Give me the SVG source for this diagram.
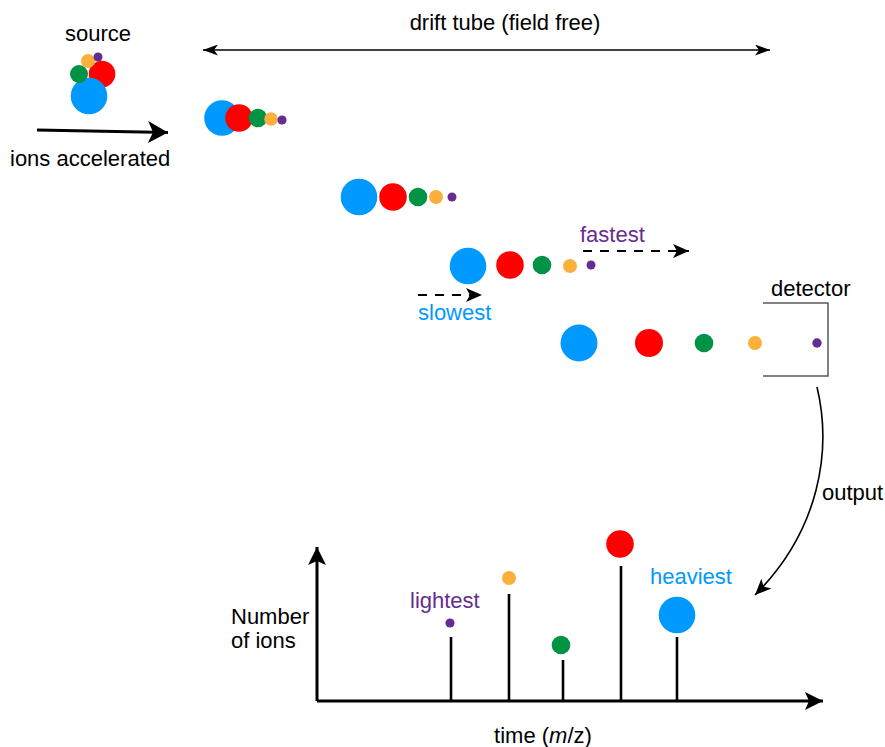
<svg xmlns="http://www.w3.org/2000/svg" width="885" height="747" viewBox="0 0 885 747">
<style>
text{font-family:"Liberation Sans",Arial,sans-serif;font-size:22px;fill:#000}
.pl{fill:#662D91}.bl{fill:#0099FF}
.b{fill:#0099FF}.r{fill:#FF0000}.g{fill:#009245}.o{fill:#FBB03B}.p{fill:#662D91}
.stem{stroke:#000;stroke-width:2.6;fill:none}
</style>
<defs>
<marker id="big" markerUnits="userSpaceOnUse" viewBox="0 0 20 22" refX="20" refY="11" markerWidth="20" markerHeight="22" orient="auto"><path d="M0,0 L20,11 L0,22 L5,11 z" fill="#000"/></marker>
<marker id="thin" markerUnits="userSpaceOnUse" viewBox="0 0 15 11" refX="15" refY="5.5" markerWidth="15" markerHeight="11" orient="auto-start-reverse"><path d="M0,0 L15,5.5 L0,11 L4,5.5 z" fill="#000"/></marker>
<marker id="mid" markerUnits="userSpaceOnUse" viewBox="0 0 16 14" refX="16" refY="7" markerWidth="16" markerHeight="14" orient="auto"><path d="M0,0 L16,7 L0,14 L4,7 z" fill="#000"/></marker>
<marker id="ax" markerUnits="userSpaceOnUse" viewBox="0 0 18 18" refX="18" refY="9" markerWidth="18" markerHeight="18" orient="auto"><path d="M0,0 L18,9 L0,18 L4,9 z" fill="#000"/></marker>
</defs>

<g id="source">
<text x="98" y="41" text-anchor="middle">source</text>
<circle class="r" cx="102" cy="74" r="13.3"/>
<circle class="b" cx="89" cy="96" r="18.3"/>
<circle class="g" cx="79" cy="74" r="9"/>
<circle class="o" cx="88" cy="61" r="7"/>
<circle class="p" cx="98" cy="57" r="4.5"/>
</g>

<g id="row1">
<circle class="b" cx="222" cy="118" r="17.8"/>
<circle class="r" cx="239" cy="118" r="13.8"/>
<circle class="g" cx="258" cy="118" r="9.3"/>
<circle class="o" cx="271" cy="119" r="6.8"/>
<circle class="p" cx="282" cy="120" r="4.6"/>
</g>

<g id="row2">
<circle class="b" cx="359" cy="197" r="18.3"/>
<circle class="r" cx="393" cy="197" r="13.8"/>
<circle class="g" cx="418" cy="197" r="9.3"/>
<circle class="o" cx="436" cy="197" r="7"/>
<circle class="p" cx="452" cy="197" r="4.5"/>
</g>

<g id="row3">
<circle class="b" cx="468" cy="266" r="18.3"/>
<circle class="r" cx="510" cy="265" r="13.8"/>
<circle class="g" cx="542" cy="265" r="9.3"/>
<circle class="o" cx="570" cy="266" r="7"/>
<circle class="p" cx="591" cy="265" r="4.5"/>
</g>

<g id="row4">
<circle class="b" cx="579" cy="343" r="18.5"/>
<circle class="r" cx="649" cy="343" r="14"/>
<circle class="g" cx="704" cy="343" r="9.3"/>
<circle class="o" cx="755" cy="343" r="7"/>
<circle class="p" cx="817" cy="343" r="4.7"/>
</g>

<g id="detector">
<text x="771" y="296">detector</text>
<path d="M763,303 H828 V376 H763" fill="none" stroke="#595959" stroke-width="1.5"/>
</g>

<g id="labels">
<text x="10" y="166">ions accelerated</text>
<text x="505" y="30" text-anchor="middle">drift tube (field free)</text>
<text class="pl" x="580" y="242">fastest</text>
<text class="bl" x="418" y="320">slowest</text>
<text x="822" y="500">output</text>
</g>

<g id="chart">
<line class="stem" x1="451" y1="701" x2="451" y2="637"/>
<circle class="p" cx="450" cy="623" r="4.6"/>
<line class="stem" x1="509" y1="701" x2="509" y2="594"/>
<circle class="o" cx="509" cy="578" r="7"/>
<line class="stem" x1="563" y1="701" x2="563" y2="660"/>
<circle class="g" cx="561" cy="645" r="9.3"/>
<line class="stem" x1="621" y1="701" x2="621" y2="566"/>
<circle class="r" cx="620" cy="544" r="13.8"/>
<line class="stem" x1="677" y1="701" x2="677" y2="637"/>
<circle class="b" cx="677" cy="615" r="18.3"/>
<text class="pl" x="410" y="608">lightest</text>
<text class="bl" x="650" y="584">heaviest</text>
<text x="231" y="624">Number</text>
<text x="231" y="648">of ions</text>
<text x="543" y="743" text-anchor="middle">time (<tspan font-style="italic">m</tspan>/z)</text>
</g>

<g id="connectors" fill="none" stroke="#000">
<line x1="37" y1="130" x2="168" y2="132.5" stroke-width="3" marker-end="url(#big)"/>
<line x1="203" y1="50" x2="770" y2="50" stroke-width="1.5" marker-start="url(#thin)" marker-end="url(#thin)"/>
<line x1="583" y1="251" x2="689" y2="251" stroke-width="1.8" stroke-dasharray="9 8" marker-end="url(#mid)"/>
<line x1="418" y1="295" x2="482" y2="295" stroke-width="1.8" stroke-dasharray="9 8" marker-end="url(#mid)"/>
<path d="M817,387 C832,450 820,530 755,595" stroke-width="1.6" marker-end="url(#mid)"/>
<line x1="317" y1="701" x2="317" y2="547" stroke-width="3" marker-end="url(#ax)"/>
<line x1="317" y1="701" x2="823" y2="701" stroke-width="3" marker-end="url(#ax)"/>
</g>
</svg>
